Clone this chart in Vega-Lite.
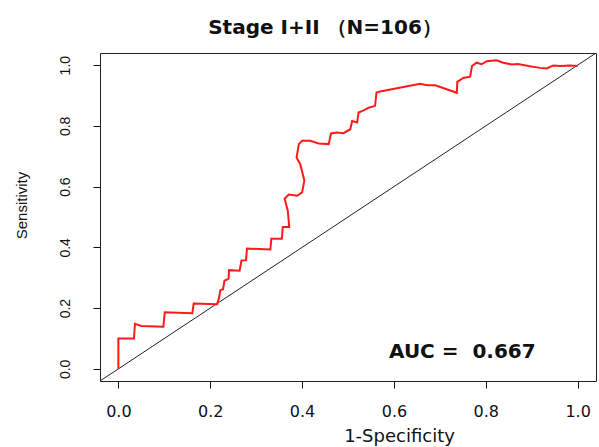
{
  "$schema": "https://vega.github.io/schema/vega-lite/v6.json",
  "autosize": "none",
  "width": 496,
  "height": 328,
  "padding": {"left": 100, "top": 53, "right": 3, "bottom": 66},
  "background": "white",
  "config": {
    "view": {"stroke": "#222", "strokeWidth": 1},
    "axis": {"grid": false, "domain": false, "tickColor": "#111", "tickSize": 7, "labelColor": "#111", "titleColor": "#111", "titleFontWeight": "normal"}
  },
  "title": {
    "text": "Stage I+II\u00a0（N=106）",
    "font": "DejaVu Sans",
    "fontWeight": "bold",
    "fontSize": 20,
    "color": "#111",
    "anchor": "middle",
    "baseline": "alphabetic",
    "offset": 20,
    "dy": 21,
    "dx": -23
  },
  "datasets": {
    "roc": [
      {"i": 1, "fpr": 0.0, "tpr": 0.0},
      {"i": 2, "fpr": 0.0, "tpr": 0.10},
      {"i": 3, "fpr": 0.034, "tpr": 0.10},
      {"i": 4, "fpr": 0.036, "tpr": 0.148},
      {"i": 5, "fpr": 0.05, "tpr": 0.141},
      {"i": 6, "fpr": 0.098, "tpr": 0.139},
      {"i": 7, "fpr": 0.101, "tpr": 0.186},
      {"i": 8, "fpr": 0.161, "tpr": 0.183},
      {"i": 9, "fpr": 0.164, "tpr": 0.215},
      {"i": 10, "fpr": 0.215, "tpr": 0.213},
      {"i": 11, "fpr": 0.219, "tpr": 0.232},
      {"i": 12, "fpr": 0.222, "tpr": 0.259},
      {"i": 13, "fpr": 0.228, "tpr": 0.262},
      {"i": 14, "fpr": 0.231, "tpr": 0.29},
      {"i": 15, "fpr": 0.24, "tpr": 0.297},
      {"i": 16, "fpr": 0.241, "tpr": 0.325},
      {"i": 17, "fpr": 0.264, "tpr": 0.323},
      {"i": 18, "fpr": 0.268, "tpr": 0.357},
      {"i": 19, "fpr": 0.278, "tpr": 0.358},
      {"i": 20, "fpr": 0.28, "tpr": 0.396},
      {"i": 21, "fpr": 0.331, "tpr": 0.393},
      {"i": 22, "fpr": 0.333, "tpr": 0.428},
      {"i": 23, "fpr": 0.356, "tpr": 0.428},
      {"i": 24, "fpr": 0.358, "tpr": 0.467},
      {"i": 25, "fpr": 0.372, "tpr": 0.467},
      {"i": 26, "fpr": 0.369, "tpr": 0.52},
      {"i": 27, "fpr": 0.362, "tpr": 0.56},
      {"i": 28, "fpr": 0.371, "tpr": 0.574},
      {"i": 29, "fpr": 0.389, "tpr": 0.57},
      {"i": 30, "fpr": 0.4, "tpr": 0.581},
      {"i": 31, "fpr": 0.405, "tpr": 0.62},
      {"i": 32, "fpr": 0.396, "tpr": 0.674},
      {"i": 33, "fpr": 0.388, "tpr": 0.696},
      {"i": 34, "fpr": 0.393, "tpr": 0.74},
      {"i": 35, "fpr": 0.4, "tpr": 0.751},
      {"i": 36, "fpr": 0.418, "tpr": 0.751},
      {"i": 37, "fpr": 0.436, "tpr": 0.742},
      {"i": 38, "fpr": 0.458, "tpr": 0.74},
      {"i": 39, "fpr": 0.463, "tpr": 0.775},
      {"i": 40, "fpr": 0.476, "tpr": 0.778},
      {"i": 41, "fpr": 0.49, "tpr": 0.776},
      {"i": 42, "fpr": 0.505, "tpr": 0.789},
      {"i": 43, "fpr": 0.509, "tpr": 0.816},
      {"i": 44, "fpr": 0.52, "tpr": 0.811},
      {"i": 45, "fpr": 0.523, "tpr": 0.844},
      {"i": 46, "fpr": 0.534, "tpr": 0.851},
      {"i": 47, "fpr": 0.545, "tpr": 0.86},
      {"i": 48, "fpr": 0.559, "tpr": 0.866},
      {"i": 49, "fpr": 0.562, "tpr": 0.91},
      {"i": 50, "fpr": 0.57, "tpr": 0.913},
      {"i": 51, "fpr": 0.657, "tpr": 0.939},
      {"i": 52, "fpr": 0.672, "tpr": 0.934},
      {"i": 53, "fpr": 0.69, "tpr": 0.934},
      {"i": 54, "fpr": 0.737, "tpr": 0.909},
      {"i": 55, "fpr": 0.738, "tpr": 0.945},
      {"i": 56, "fpr": 0.751, "tpr": 0.958},
      {"i": 57, "fpr": 0.766, "tpr": 0.962},
      {"i": 58, "fpr": 0.77, "tpr": 0.997},
      {"i": 59, "fpr": 0.78, "tpr": 1.008},
      {"i": 60, "fpr": 0.791, "tpr": 1.003},
      {"i": 61, "fpr": 0.802, "tpr": 1.013},
      {"i": 62, "fpr": 0.824, "tpr": 1.016},
      {"i": 63, "fpr": 0.838, "tpr": 1.008},
      {"i": 64, "fpr": 0.857, "tpr": 1.002},
      {"i": 65, "fpr": 0.87, "tpr": 1.004},
      {"i": 66, "fpr": 0.893, "tpr": 0.997},
      {"i": 67, "fpr": 0.918, "tpr": 0.991},
      {"i": 68, "fpr": 0.933, "tpr": 0.989},
      {"i": 69, "fpr": 0.947, "tpr": 0.999},
      {"i": 70, "fpr": 0.962, "tpr": 0.997},
      {"i": 71, "fpr": 0.983, "tpr": 0.999},
      {"i": 72, "fpr": 1.0, "tpr": 0.997}
    ],
    "diagonal": [
      {"fpr": -0.04, "tpr": -0.04},
      {"fpr": 1.04, "tpr": 1.04}
    ],
    "auc": [
      {"fpr": 0.749, "tpr": 0.056, "label": "AUC =\u00a0 0.667"}
    ]
  },
  "layer": [
    {
      "data": {"name": "diagonal"},
      "mark": {"type": "line", "color": "#222", "strokeWidth": 1, "clip": true},
      "encoding": {
        "x": {
          "field": "fpr", "type": "quantitative",
          "scale": {"domain": [-0.04, 1.04], "nice": false, "zero": false},
          "axis": {
            "values": [0, 0.2, 0.4, 0.6, 0.8, 1.0],
            "format": ".1f",
            "labelFont": "DejaVu Sans",
            "labelFontSize": 16,
            "labelPadding": 15,
            "title": "1-Specificity",
            "titleFont": "DejaVu Sans",
            "titleFontSize": 18,
            "titleBaseline": "alphabetic",
            "titleY": 60,
            "titleX": 299
          }
        },
        "y": {
          "field": "tpr", "type": "quantitative",
          "scale": {"domain": [-0.04, 1.04], "nice": false, "zero": false},
          "axis": {
            "values": [0, 0.2, 0.4, 0.6, 0.8, 1.0],
            "format": ".1f",
            "labelFont": "Liberation Sans",
            "labelFontSize": 14,
            "labelAngle": -90,
            "labelAlign": "center",
            "labelBaseline": "alphabetic",
            "labelPadding": 24,
            "title": "Sensitivity",
            "titleFont": "Liberation Sans",
            "titleFontSize": 15,
            "titleAngle": -90,
            "titleBaseline": "alphabetic",
            "titleAlign": "center",
            "titleX": -74,
            "titleY": 152
          }
        }
      }
    },
    {
      "data": {"name": "roc"},
      "mark": {"type": "line", "color": "#ff1a1a", "strokeWidth": 2, "clip": true},
      "encoding": {
        "x": {"field": "fpr", "type": "quantitative"},
        "y": {"field": "tpr", "type": "quantitative"},
        "order": {"field": "i", "type": "quantitative"}
      }
    },
    {
      "data": {"name": "auc"},
      "mark": {"type": "text", "font": "DejaVu Sans", "fontWeight": "bold", "fontSize": 20, "color": "#111", "align": "center", "baseline": "middle"},
      "encoding": {
        "x": {"field": "fpr", "type": "quantitative"},
        "y": {"field": "tpr", "type": "quantitative"},
        "text": {"field": "label"}
      }
    }
  ]
}
